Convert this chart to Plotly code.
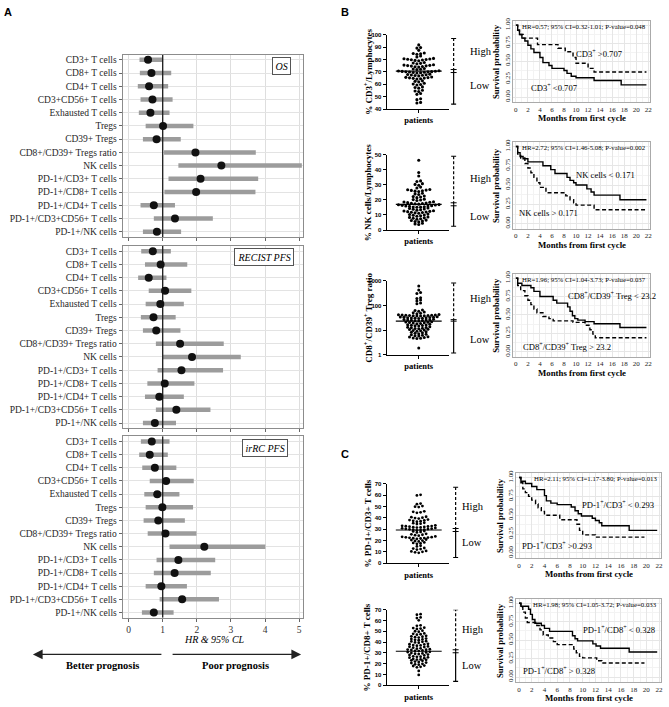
import math
import plotly.graph_objects as go

W, H = 669, 707
SERIF = "Liberation Serif, Times New Roman, serif"
SANS = "Liberation Sans, Arial, sans-serif"

# ---------------- Panel A data ----------------
markers = ["CD3+ T cells", "CD8+ T cells", "CD4+ T cells", "CD3+CD56+ T cells", "Exhausted T cells",
           "Tregs", "CD39+ Tregs", "CD8+/CD39+ Tregs ratio", "NK cells", "PD-1+/CD3+ T cells",
           "PD-1+/CD8+ T cells", "PD-1+/CD4+ T cells", "PD-1+/CD3+CD56+ T cells", "PD-1+/NK cells"]

os_hr = [0.57, 0.67, 0.60, 0.70, 0.64, 1.01, 0.82, 1.96, 2.72, 2.11, 1.98, 0.74, 1.36, 0.83]
os_lo = [0.32, 0.33, 0.27, 0.35, 0.30, 0.50, 0.42, 1.04, 1.46, 1.17, 1.05, 0.35, 0.74, 0.42]
os_hi = [1.01, 1.25, 1.16, 1.29, 1.20, 1.90, 1.53, 3.73, 5.08, 3.80, 3.72, 1.36, 2.47, 1.54]

recist_hr = [0.71, 0.94, 0.59, 1.07, 0.93, 0.73, 0.81, 1.51, 1.86, 1.55, 1.06, 0.90, 1.40, 0.77]
recist_lo = [0.37, 0.48, 0.28, 0.59, 0.50, 0.36, 0.42, 0.80, 1.01, 0.85, 0.55, 0.48, 0.80, 0.42]
recist_hi = [1.24, 1.72, 1.11, 1.84, 1.62, 1.38, 1.52, 2.79, 3.29, 2.77, 1.93, 1.62, 2.40, 1.39]

irrc_hr = [0.68, 0.62, 0.77, 1.10, 0.84, 0.99, 0.87, 1.08, 2.22, 1.46, 1.35, 0.96, 1.57, 0.74]
irrc_lo = [0.36, 0.31, 0.40, 0.62, 0.46, 0.50, 0.44, 0.56, 1.20, 0.82, 0.74, 0.50, 0.91, 0.39]
irrc_hi = [1.20, 1.15, 1.40, 1.91, 1.49, 1.89, 1.65, 1.99, 4.01, 2.54, 2.41, 1.71, 2.65, 1.32]

hr_ticks = [0, 1, 2, 3, 4, 5]
ref_hr = 1

# ---------------- Panel B/C dot plot data ----------------
cd3_lymph = [91.8, 89.6, 89.2, 87.4, 85.3, 84.9, 84.6, 84.2, 82.8, 82.1,
             80.9, 80.6, 80.4, 80.2, 80.0, 79.8, 79.6, 79.3, 79.0,
             77.6, 77.2, 76.9, 76.5,
             75.8, 75.5, 75.3, 75.1, 74.9, 74.7, 74.4, 74.2, 73.9,
             72.8, 72.4, 72.1, 71.9,
             70.9, 70.7, 70.5, 70.4, 70.2, 70.1, 70.0, 69.9, 69.7, 69.5, 69.3, 69.1,
             68.2, 67.9, 67.7, 67.5, 67.3, 67.1, 66.8,
             65.9, 65.6, 65.4, 65.2, 65.0, 64.8, 64.5, 64.2,
             62.8, 62.4, 62.0, 60.8, 60.3, 59.9, 59.4,
             57.9, 57.4, 56.9, 55.2, 54.6, 54.1, 52.6, 51.9, 48.3, 47.6, 45.4, 44.9]

nk_lymph = [46.3, 38.2, 35.9, 32.6, 32.2, 30.8, 30.3, 29.7, 28.5, 27.9,
            26.9, 26.7, 26.5, 26.3, 26.1, 25.8, 25.5, 24.4, 24.0, 23.6,
            22.6, 22.2, 21.9, 21.5, 20.5, 20.2, 19.9, 19.6,
            18.8, 18.6, 18.4, 18.2, 18.0, 17.8, 17.6, 17.4, 17.2,
            16.9, 16.8, 16.6, 16.4, 16.2, 16.0, 15.9, 15.7, 15.5, 15.3, 15.2, 15.1,
            14.6, 14.3, 14.0, 13.8, 13.5, 13.2,
            12.8, 12.6, 12.4, 12.2, 12.0, 11.8, 11.6, 11.4, 11.2,
            10.6, 10.3, 10.0, 9.8, 9.5, 9.2, 8.7, 8.4, 8.1, 7.8, 7.5, 7.2,
            6.6, 6.3, 6.0, 5.7, 5.4, 4.5, 4.1, 3.7]

cd8_cd39_ratio = [600, 420, 330, 300, 205, 190, 165, 150, 125, 118,
                  66, 62, 58, 54, 51, 48, 46,
                  43, 42, 41.5, 41, 40.5, 40, 39.5, 39, 38.5, 38, 37.5, 37,
                  34.5, 34, 33.5, 33, 32.5, 32, 31.5, 31, 30.5, 30, 29.5,
                  27.5, 27, 26.5, 26, 25.5, 25, 24.5, 24, 23.5,
                  22, 21.4, 20.8, 20.3, 19.8, 19.3, 18.8, 18.3,
                  17.2, 16.7, 16.2, 15.8, 15.4, 15.0, 14.6,
                  13.8, 13.3, 12.9, 12.5, 12.1, 11.7, 11.4,
                  11.0, 10.6, 10.2, 9.8, 9.4, 9.1,
                  8.7, 8.3, 7.9, 7.5, 7.2, 6.9, 6.6, 6.3, 6.0, 5.8,
                  5.5, 5.3, 5.1, 4.9, 4.7, 4.6, 1.9]

pd1_cd3 = [60.3, 59.8, 52.6, 52.1, 50.4, 49.9, 49.5, 45.8, 45.3, 44.9, 44.5,
           41.0, 40.6, 40.2, 39.8, 39.4, 38.5, 38.1, 37.8, 37.4, 37.0, 36.6,
           35.7, 35.3, 34.9, 34.5,
           33.4, 33.0, 32.8, 32.6, 32.4, 32.2, 32.0, 31.8, 31.6, 31.4,
           31.1, 30.8, 30.5, 30.3, 30.1, 29.9, 29.7, 29.5, 29.3, 29.0,
           28.4, 28.0, 27.6, 27.2, 25.9, 25.5, 25.1, 24.7, 24.3,
           23.6, 23.3, 23.0, 22.8, 22.6, 22.4, 22.2, 22.0, 21.8, 21.5,
           20.9, 20.4, 20.0, 19.6, 19.2, 18.3, 17.9, 17.5, 17.1, 15.4, 14.8,
           13.4, 12.9, 12.5, 12.0, 10.8, 10.4, 10.0, 9.6, 9.2]

pd1_cd8 = [65.9, 65.4, 62.9, 62.3, 60.2, 55.6, 55.1, 53.4, 53.0, 52.6, 52.2,
           50.6, 50.1, 49.6, 48.1, 47.7, 47.3, 46.9, 45.8, 45.4, 45.0, 44.6, 44.2,
           43.3, 42.9, 42.5, 42.1, 41.7, 40.9, 40.6, 40.3, 39.7, 39.4,
           38.4, 38.1, 37.8, 37.2, 36.9, 36.6,
           36.0, 35.7, 35.4, 34.8, 34.2, 33.9,
           33.4, 33.1, 32.9, 32.7, 32.3, 31.9, 31.7,
           31.0, 30.7, 30.4, 29.8, 29.5, 29.2, 28.9,
           28.4, 28.0, 27.6, 26.8, 26.5, 26.3,
           25.9, 25.5, 25.1, 24.3, 23.9, 23.8,
           23.5, 23.1, 22.7, 21.9, 21.5, 21.0, 20.6, 19.8, 19.4, 19.0,
           18.2, 17.8, 17.0, 16.6, 13.2, 9.5]

cutoffs = [70.7, 17.1, 23.2, 29.3, 31.5]
bracket_tops = [97, 49, 800, 67, 70]
bracket_bottoms = [44, 2.5, 1.2, 5, 3.5]

# ---------------- Kaplan-Meier step data ----------------
km_ticks = [0, 2, 4, 6, 8, 10, 12, 14, 16, 18, 20, 22]
surv_ticks = [0, 0.25, 0.5, 0.75, 1.0]
surv_ticktext = ["0.00", "0.25", "0.50", "0.75", "1.00"]

cd3_low_t = [0, 0.3, 0.6, 1.0, 1.5, 2.0, 2.5, 3.0, 4.0, 4.5, 5.5, 6.0, 8.0, 8.5, 9.2, 10.0, 13.0, 17.5, 21.7]
cd3_low_s = [1.0, 0.93, 0.87, 0.82, 0.78, 0.72, 0.67, 0.62, 0.55, 0.48, 0.44, 0.40, 0.37, 0.33, 0.29, 0.27, 0.23, 0.17, 0.17]
cd3_high_t = [0, 0.3, 0.6, 1.2, 3.6, 7.0, 8.2, 9.5, 10.0, 12.0, 13.0, 21.7]
cd3_high_s = [1.0, 0.93, 0.87, 0.82, 0.73, 0.68, 0.63, 0.55, 0.47, 0.40, 0.35, 0.35]

nk_low_t = [0, 0.3, 0.7, 1.2, 2.0, 4.5, 5.8, 6.5, 8.5, 9.0, 9.6, 10.0, 11.8, 12.5, 13.0, 17.3, 21.7]
nk_low_s = [1.0, 0.92, 0.87, 0.84, 0.80, 0.75, 0.70, 0.65, 0.60, 0.56, 0.53, 0.50, 0.45, 0.41, 0.37, 0.31, 0.31]
nk_high_t = [0, 0.3, 0.8, 1.5, 2.0, 2.5, 3.0, 3.5, 4.0, 5.0, 8.3, 9.0, 9.6, 10.0, 13.0, 21.7]
nk_high_s = [1.0, 0.90, 0.85, 0.78, 0.72, 0.66, 0.60, 0.53, 0.47, 0.40, 0.36, 0.31, 0.27, 0.24, 0.18, 0.18]

treg_low_t = [0, 0.3, 1.0, 2.5, 3.0, 4.0, 6.2, 6.8, 8.6, 9.0, 9.4, 9.8, 10.3, 11.5, 13.0, 17.3, 21.7]
treg_low_s = [1.0, 0.93, 0.90, 0.87, 0.82, 0.75, 0.70, 0.66, 0.61, 0.55, 0.49, 0.45, 0.43, 0.41, 0.38, 0.33, 0.33]
treg_high_t = [0, 0.3, 0.8, 1.5, 2.0, 2.5, 3.0, 3.5, 4.5, 5.5, 6.2, 9.5, 11.5, 12.3, 12.8, 13.2, 21.7]
treg_high_s = [1.0, 0.90, 0.83, 0.76, 0.70, 0.64, 0.58, 0.53, 0.48, 0.45, 0.42, 0.40, 0.36, 0.30, 0.24, 0.19, 0.19]

pd1cd3_low_t = [0, 0.3, 1.0, 2.0, 2.8, 4.0, 4.3, 5.0, 6.0, 8.2, 8.8, 9.3, 9.8, 11.5, 12.0, 12.6, 13.0, 17.3, 21.7]
pd1cd3_low_s = [1.0, 0.95, 0.92, 0.88, 0.84, 0.76, 0.69, 0.66, 0.64, 0.61, 0.56, 0.52, 0.49, 0.46, 0.43, 0.40, 0.36, 0.30, 0.30]
pd1cd3_high_t = [0, 0.3, 0.6, 1.0, 1.5, 2.0, 2.6, 3.0, 3.5, 4.0, 6.4, 9.1, 9.5, 10.0, 12.0, 19.7]
pd1cd3_high_s = [1.0, 0.93, 0.85, 0.80, 0.75, 0.70, 0.65, 0.60, 0.55, 0.50, 0.44, 0.38, 0.30, 0.24, 0.21, 0.21]

pd1cd8_low_t = [0, 0.3, 1.5, 1.8, 2.1, 2.5, 3.5, 4.0, 4.8, 8.4, 8.8, 9.2, 11.6, 12.1, 12.8, 17.3, 21.7]
pd1cd8_low_s = [1.0, 0.96, 0.92, 0.85, 0.78, 0.73, 0.70, 0.66, 0.62, 0.56, 0.52, 0.49, 0.45, 0.42, 0.39, 0.34, 0.34]
pd1cd8_high_t = [0, 0.3, 0.6, 1.0, 1.3, 2.8, 3.3, 3.8, 4.6, 5.4, 6.0, 8.6, 9.0, 9.5, 10.0, 12.2, 13.0, 19.7]
pd1cd8_high_s = [1.0, 0.95, 0.88, 0.80, 0.74, 0.70, 0.64, 0.57, 0.53, 0.48, 0.44, 0.38, 0.33, 0.28, 0.26, 0.22, 0.19, 0.19]

hr_texts = ["HR=0.57; 95% CI=0.32-1.01; P-value=0.048",
            "HR=2.72; 95% CI=1.46-5.08; P-value=0.002",
            "HR=1.96; 95% CI=1.04-3.73; P-value=0.037",
            "HR=2.11; 95% CI=1.17-3.80; P-value=0.013",
            "HR=1.98; 95% CI=1.05-3.72; P-value=0.033"]


# ---------------- helpers ----------------
def px(x):
    return x / W


def py(y):
    return 1 - y / H


def xdom(a, b):
    return [a / W, b / W]


def ydom(top, bottom):
    return [1 - bottom / H, 1 - top / H]


def swarm_offsets(values, step, log=False, spacing=3.7):
    keys = [round((math.log10(v) if log else v) / step) for v in values]
    groups = {}
    for i, k in enumerate(keys):
        groups.setdefault(k, []).append(i)
    xs = [0.0] * len(values)
    for k, idxs in groups.items():
        idxs = sorted(idxs, key=lambda i: values[i])
        n = len(idxs)
        slots = sorted(range(n), key=lambda j: abs(j - (n - 1) / 2))
        for i, s in zip(idxs, slots):
            xs[i] = (s - (n - 1) / 2) * spacing
    return xs


def text_at(x, y, text, size, family=SERIF, xanchor="center", yanchor="middle", **kw):
    d = dict(x=px(x), y=py(y), xref="paper", yref="paper", text=text, showarrow=False,
             xanchor=xanchor, yanchor=yanchor, font=dict(family=family, size=size, color="#000000"))
    d.update(kw)
    return d


fig = go.Figure()
layout = {}
shapes = []
annots = []

# ---------------- Panel A: forest plots ----------------
forest = [
    ("", os_hr, os_lo, os_hi, (52, 236), "OS", (282, 63.5), False),
    ("2", recist_hr, recist_lo, recist_hi, (245, 429), "RECIST PFS", (265, 256.5), False),
    ("3", irrc_hr, irrc_lo, irrc_hi, (437, 620), "irRC PFS", (266, 449), True),
]
rows = list(range(len(markers)))
for suf, hr, lo, hi, (t, b), lab, (lx, ly), showx in forest:
    xa, ya = "x" + suf, "y" + suf
    bx, by = [], []
    for i in rows:
        bx += [lo[i], hi[i], None]
        by += [i, i, None]
    fig.add_trace(go.Scatter(x=bx, y=by, mode="lines", line=dict(color="#9c9c9c", width=4.5),
                             xaxis=xa, yaxis=ya, showlegend=False, hoverinfo="skip"))
    fig.add_trace(go.Scatter(x=[ref_hr, ref_hr], y=[-0.4, 13.4], mode="lines",
                             line=dict(color="#1a1a1a", width=1.3),
                             xaxis=xa, yaxis=ya, showlegend=False, hoverinfo="skip"))
    fig.add_trace(go.Scatter(x=hr, y=rows, mode="markers", marker=dict(color="#111111", size=8),
                             xaxis=xa, yaxis=ya, showlegend=False, hoverinfo="skip"))
    layout["xaxis" + suf] = dict(domain=xdom(123, 304), anchor=ya, range=[-0.175, 5.117],
                                 tickvals=hr_ticks, showticklabels=showx, ticks="outside", ticklen=3,
                                 tickcolor="#666", showgrid=True, gridcolor="#dedede", showline=True,
                                 mirror=True, linecolor="#8c8c8c", linewidth=1, zeroline=False,
                                 tickfont=dict(family=SERIF, size=9.5, color="#333"))
    layout["yaxis" + suf] = dict(domain=ydom(t, b), anchor=xa, range=[13.4, -0.4], tickvals=rows,
                                 ticktext=markers, ticks="outside", ticklen=3, tickcolor="#666",
                                 showgrid=True, gridcolor="#e3e3e3", showline=True, mirror=True,
                                 linecolor="#8c8c8c", linewidth=1, zeroline=False,
                                 tickfont=dict(family=SERIF, size=9.5, color="#262626"))
    annots.append(text_at(lx, ly, "<i>" + lab + "</i>", 10, bordercolor="#555", borderwidth=1,
                          borderpad=2.5, bgcolor="white"))

annots.append(text_at(215, 642, "<i>HR & 95% CL</i>", 10))
# arrows
annots.append(dict(x=px(33), y=py(657), xref="paper", yref="paper", ax=130, ay=0, axref="pixel",
                   ayref="pixel", showarrow=True, arrowhead=2, arrowsize=1.5, arrowwidth=1.3,
                   arrowcolor="#222", text=""))
annots.append(dict(x=px(302), y=py(657), xref="paper", yref="paper", ax=-130, ay=0, axref="pixel",
                   ayref="pixel", showarrow=True, arrowhead=2, arrowsize=1.5, arrowwidth=1.3,
                   arrowcolor="#222", text=""))
annots.append(text_at(103, 668, "<b>Better prognosis</b>", 10.5))
annots.append(text_at(236, 668, "<b>Poor prognosis</b>", 10.5))

# panel letters
for letter, lx, ly in [("A", 8, 9), ("B", 346, 9), ("C", 346, 455)]:
    annots.append(text_at(lx, ly, "<b>" + letter + "</b>", 11, family=SANS))

# ---------------- dot plots ----------------
dots = [
    ("4", cd3_lymph, 0, [40, 100], [40, 50, 60, 70, 80, 90, 100], False, (32, 107),
     "% CD3<sup>+</sup>/Lymphocytes", 455, 469, (49, 83), 2.5, 3.1),
    ("5", nk_lymph, 1, [0, 50], [0, 10, 20, 30, 40, 50], False, (153, 229),
     "% NK cells/Lymphocytes", 455, 469, (177, 215), 2.0, 3.1),
    ("6", cd8_cd39_ratio, 2, [0, 3], [1, 10, 100, 1000], True, (280, 355),
     "CD8<sup>+</sup>/CD39<sup>+</sup> Treg ratio", 455, 469, (298, 339), 0.1, 3.0),
    ("7", pd1_cd3, 3, [0, 70], [0, 10, 20, 30, 40, 50, 60, 70], False, (485, 565),
     "% PD-1+/CD3+ T cells", 457, 461, (508, 544), 2.5, 2.8),
    ("8", pd1_cd8, 4, [0, 70], [0, 10, 20, 30, 40, 50, 60, 70], False, (612, 688),
     "% PD-1+/CD8+ T cells", 457, 461, (632, 668), 2.5, 2.8),
]
for suf, vals, k, yr, tv, log, (t, b), title, bxp, hlx, (hy, ly_), step, msize in dots:
    xa, ya = "x" + suf, "y" + suf
    xs = swarm_offsets(vals, step, log=log)
    fig.add_trace(go.Scatter(x=xs, y=vals, mode="markers", marker=dict(color="black", size=msize),
                             xaxis=xa, yaxis=ya, showlegend=False, hoverinfo="skip", cliponaxis=False))
    cut, top, bot = cutoffs[k], bracket_tops[k], bracket_bottoms[k]
    shapes.append(dict(type="line", xref=xa, yref=ya, x0=-23, x1=23, y0=cut, y1=cut,
                       line=dict(color="black", width=1.2)))
    shapes.append(dict(type="line", xref="paper", yref=ya, x0=px(bxp), x1=px(bxp), y0=cut, y1=top,
                       line=dict(color="black", width=1.2, dash="3px,2px")))
    shapes.append(dict(type="line", xref="paper", yref=ya, x0=px(bxp), x1=px(bxp), y0=bot, y1=cut,
                       line=dict(color="black", width=1.2)))
    for yy in (top, bot):
        shapes.append(dict(type="line", xref="paper", yref=ya, x0=px(bxp - 2.5), x1=px(bxp + 2.5),
                           y0=yy, y1=yy, line=dict(color="black", width=1.1)))
    for off in (-1.5, 1.5):
        shapes.append(dict(type="line", xref="paper", yref=ya, ysizemode="pixel", yanchor=cut,
                           y0=off, y1=off, x0=px(bxp - 3), x1=px(bxp + 3),
                           line=dict(color="black", width=1)))
    for txt, yy in (("High", hy), ("Low", ly_)):
        annots.append(text_at(hlx, yy, txt, 10.5, xanchor="left"))
    annots.append(text_at(369, (t + b) / 2, "<b>" + title + "</b>", 9, textangle=-90))
    layout["xaxis" + suf] = dict(domain=xdom(388, 450), anchor=ya, range=[-32, 30], tickvals=[0],
                                 ticktext=["<b>patients</b>"], ticks="outside", ticklen=3, tickcolor="black",
                                 showgrid=False, zeroline=False, showline=True, linecolor="black", linewidth=1.2,
                                 tickfont=dict(family=SERIF, size=8.5, color="#000"))
    ya_d = dict(domain=ydom(t, b), anchor=xa, range=yr, tickvals=tv, ticks="outside", ticklen=3,
                tickcolor="black", showgrid=False, zeroline=False, showline=True, linecolor="black",
                linewidth=1.2, tickfont=dict(family=SANS, size=6, color="#000", weight="bold"))
    if log:
        ya_d["type"] = "log"
        ya_d["ticktext"] = ["1", "10", "100", "1000"]
    layout["yaxis" + suf] = ya_d

# ---------------- Kaplan-Meier plots ----------------
kms = [
    ("9", (515, 652), (18, 100), (cd3_low_t, cd3_low_s), (cd3_high_t, cd3_high_s),
     ("CD3<sup>+</sup> &lt;0.707", 531, 85), ("CD3<sup>+</sup> &gt;0.707", 576, 51)),
    ("10", (515, 652), (140, 228), (nk_low_t, nk_low_s), (nk_high_t, nk_high_s),
     ("NK cells &lt; 0.171", 576, 173), ("NK cells &gt; 0.171", 519, 212)),
    ("11", (515, 652), (273, 357), (treg_low_t, treg_low_s), (treg_high_t, treg_high_s),
     ("CD8<sup>+</sup>/CD39<sup>+</sup> Treg &lt; 23.2", 568, 295),
     ("CD8<sup>+</sup>/CD39<sup>+</sup> Treg &gt; 23.2", 523, 346)),
    ("12", (518, 663), (474, 560), (pd1cd3_low_t, pd1cd3_low_s), (pd1cd3_high_t, pd1cd3_high_s),
     ("PD-1<sup>+</sup>/CD3<sup>+</sup> &lt; 0.293", 582, 506),
     ("PD-1<sup>+</sup>/CD3<sup>+</sup> &gt;0.293", 522, 547)),
    ("13", (518, 663), (601, 685), (pd1cd8_low_t, pd1cd8_low_s), (pd1cd8_high_t, pd1cd8_high_s),
     ("PD-1<sup>+</sup>/CD8<sup>+</sup> &lt; 0.328", 583, 632),
     ("PD-1<sup>+</sup>/CD8<sup>+</sup> &gt; 0.328", 523, 673)),
]
for j, (suf, (l, r), (t, b), solid, dashed, lab1, lab2) in enumerate(kms):
    xa, ya = "x" + suf, "y" + suf
    fig.add_trace(go.Scatter(x=solid[0], y=solid[1], mode="lines", line=dict(color="black", width=1.4, shape="hv"),
                             xaxis=xa, yaxis=ya, showlegend=False, hoverinfo="skip"))
    fig.add_trace(go.Scatter(x=dashed[0], y=dashed[1], mode="lines",
                             line=dict(color="black", width=1.4, shape="hv", dash="4px,2.5px"),
                             xaxis=xa, yaxis=ya, showlegend=False, hoverinfo="skip"))
    layout["xaxis" + suf] = dict(domain=xdom(l, r), anchor=ya, range=[-0.4, 22.3], tickvals=km_ticks,
                                 ticks="", showgrid=True, gridcolor="#e6e6e6", zeroline=False,
                                 showline=True, mirror=True, linecolor="#aaaaaa", linewidth=1,
                                 minor=dict(tickmode="linear", tick0=0, dtick=1, showgrid=True,
                                            gridcolor="#f3f3f3"),
                                 tickfont=dict(family=SERIF, size=7, color="#222"))
    layout["yaxis" + suf] = dict(domain=ydom(t, b), anchor=xa, range=[-0.07, 1.06], tickvals=surv_ticks,
                                 ticktext=surv_ticktext, tickangle=-90, ticks="", showgrid=True,
                                 gridcolor="#e6e6e6", zeroline=False, showline=True, mirror=True,
                                 linecolor="#aaaaaa", linewidth=1,
                                 minor=dict(tickmode="linear", tick0=0, dtick=0.125, showgrid=True,
                                            gridcolor="#f3f3f3"),
                                 tickfont=dict(family=SERIF, size=6.8, color="#222"))
    annots.append(text_at(r - 2, t + 6, hr_texts[j], 6.8, xanchor="right"))
    for txt, lx, ly in (lab1, lab2):
        annots.append(text_at(lx, ly, txt, 8.6, xanchor="left"))
    annots.append(text_at(l - 17, (t + b) / 2, "<b>Survival probability</b>", 8.6, textangle=-90))
    annots.append(text_at((l + r) / 2, b + 16, "<b>Months from first cycle</b>", 8.8))

fig.update_layout(**layout)
fig.update_layout(width=W, height=H, autosize=False, margin=dict(l=0, r=0, t=0, b=0),
                  paper_bgcolor="white", plot_bgcolor="white", showlegend=False,
                  hovermode=False, shapes=shapes, annotations=annots)
fig.write_html("out.html", config={"displayModeBar": False, "staticPlot": True},
               post_script="document.body.style.margin='0';document.body.style.padding='0';")
